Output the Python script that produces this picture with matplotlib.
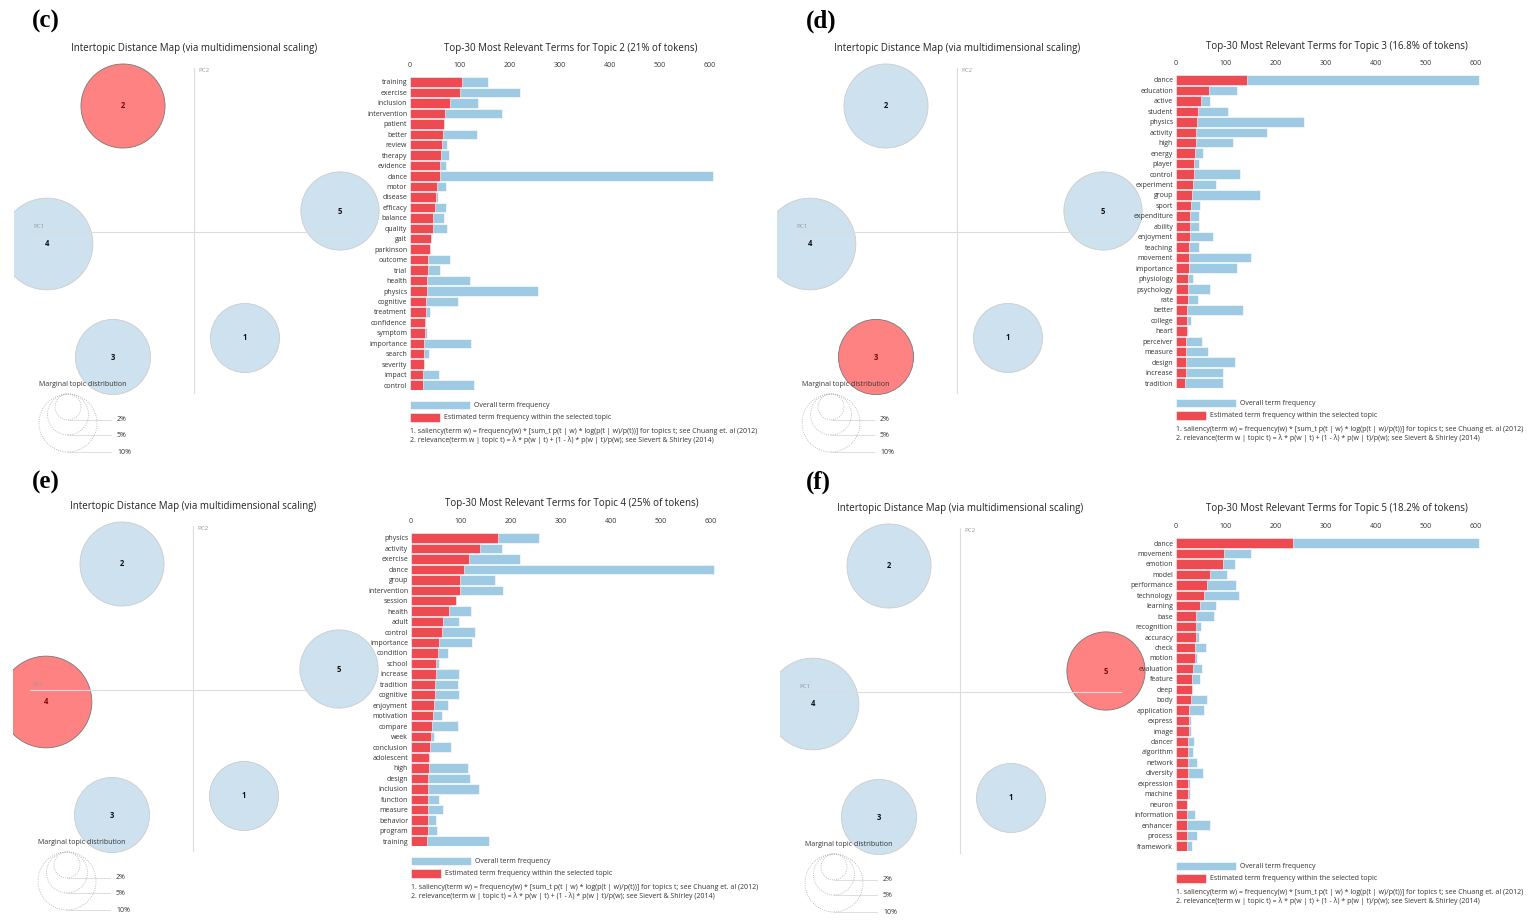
import numpy as np
import matplotlib.pyplot as plt
from matplotlib.patches import Circle, Rectangle

plt.rcParams['font.family'] = ['Open Sans', 'DejaVu Sans']

# ---- data ----
topic_ids = [1, 2, 3, 4, 5]
topic_share = [14.2, 21.0, 16.8, 25.0, 18.2]       # % of tokens
topic_pc1 = [0.102, -0.142, -0.162, -0.294, 0.292]
topic_pc2 = [-0.212, 0.252, -0.250, -0.024, 0.042]
legend_shares = [2, 5, 10]
bar_ticks = [0, 100, 200, 300, 400, 500, 600]

topic2_terms = ['training', 'exercise', 'inclusion', 'intervention', 'patient', 'better',
                'review', 'therapy', 'evidence', 'dance', 'motor', 'disease', 'efficacy',
                'balance', 'quality', 'gait', 'parkinson', 'outcome', 'trial', 'health',
                'physics', 'cognitive', 'treatment', 'confidence', 'symptom', 'importance',
                'search', 'severity', 'impact', 'control']
topic2_est = [104, 99, 80, 69, 67, 66, 63, 62, 60, 59, 53, 51, 49, 46, 46,
              41, 39, 36, 36, 34, 34, 32, 31, 30, 29, 28, 28, 27, 26, 26]
topic2_total = [156, 219, 136, 183, 67, 133, 74, 78, 71, 606, 71, 56, 72, 67, 73,
                41, 39, 80, 59, 120, 256, 95, 39, 32, 33, 122, 37, 27, 58, 128]

topic3_terms = ['dance', 'education', 'active', 'student', 'physics', 'activity', 'high',
                'energy', 'player', 'control', 'experiment', 'group', 'sport', 'expenditure',
                'ability', 'enjoyment', 'teaching', 'movement', 'importance', 'physiology',
                'psychology', 'rate', 'better', 'college', 'heart', 'perceiver', 'measure',
                'design', 'increase', 'tradition']
topic3_est = [142, 66, 49, 44, 41, 40, 39, 38, 36, 36, 34, 31, 29, 28, 27,
              27, 26, 25, 25, 24, 24, 23, 22, 21, 21, 20, 20, 19, 19, 18]
topic3_total = [605, 121, 68, 103, 255, 181, 114, 53, 46, 128, 79, 167, 47, 45, 45,
                73, 45, 150, 121, 34, 67, 43, 133, 29, 24, 51, 64, 117, 94, 94]

topic4_terms = ['physics', 'activity', 'exercise', 'dance', 'group', 'intervention',
                'session', 'health', 'adult', 'control', 'importance', 'condition', 'school',
                'increase', 'tradition', 'cognitive', 'enjoyment', 'motivation', 'compare',
                'week', 'conclusion', 'adolescent', 'high', 'design', 'inclusion',
                'function', 'measure', 'behavior', 'program', 'training']
topic4_est = [173, 137, 115, 106, 98, 97, 90, 76, 64, 61, 56, 53, 50, 49, 47,
              47, 45, 44, 42, 40, 38, 35, 35, 34, 34, 34, 34, 33, 33, 32]
topic4_total = [255, 181, 218, 605, 167, 183, 90, 120, 95, 128, 121, 73, 56, 95, 94,
                95, 73, 62, 94, 46, 80, 35, 114, 117, 135, 55, 64, 50, 52, 155]

topic5_terms = ['dance', 'movement', 'emotion', 'model', 'performance', 'technology',
                'learning', 'base', 'recognition', 'accuracy', 'check', 'motion',
                'evaluation', 'feature', 'deep', 'body', 'application', 'express', 'image',
                'dancer', 'algorithm', 'network', 'diversity', 'expression', 'machine',
                'neuron', 'information', 'enhancer', 'process', 'framework']
topic5_est = [233, 95, 94, 67, 62, 56, 47, 40, 39, 39, 38, 37, 34, 32, 32,
              29, 26, 25, 25, 24, 24, 23, 23, 23, 23, 22, 22, 21, 21, 21]
topic5_total = [605, 150, 118, 101, 120, 125, 80, 75, 50, 46, 59, 42, 52, 47, 32,
                62, 55, 29, 30, 36, 34, 42, 54, 27, 28, 22, 38, 68, 42, 31]

# ---- style ----
W, H = 1531, 924
S = 500.0                  # pixels per PC unit
R10 = 29.0 / S             # radius of a 10% circle
STEP = 10.45               # pixels per bar row
XSCALE = 0.5               # pixels per term count
BAR_BLUE = '#9ecae3'
BAR_RED = '#ee4a52'
CIRC_BLUE = (0.12, 0.47, 0.71, 0.22)
CIRC_RED = (1.0, 0.30, 0.30, 0.70)
FONT_SMALL = 5

fig = plt.figure(figsize=(W / 100, H / 100), dpi=100)


def px_rect(left, top, width, height):
    return [left / W, 1 - (top + height) / H, width / W, height / H]


def ftext(x, y, s, **kw):
    fig.text(x / W, 1 - y / H, s, **kw)


def frect(x, y, w, h, color):
    fig.add_artist(Rectangle((x / W, 1 - (y + h) / H), w / W, h / H,
                             transform=fig.transFigure, facecolor=color,
                             edgecolor='white', lw=0.4))


def draw_mds(ox, oy, selected):
    ax = fig.add_axes(px_rect(ox - 180, oy - 175, 390, 405))
    ax.set_xlim(-180 / S, 210 / S)
    ax.set_ylim(-230 / S, 175 / S)
    ax.axis('off')
    ax.plot([-0.326, 0.322], [0, 0], color='#dcdcdc', lw=0.8, zorder=3)
    ax.plot([0, 0], [-0.322, 0.328], color='#dcdcdc', lw=0.8, zorder=3)
    ax.text(-0.322, 0.006, 'PC1', fontsize=4.5, color='#999999', va='bottom')
    ax.text(0.008, 0.322, 'PC2', fontsize=4.5, color='#999999', va='center')
    for tid, share, x, y in zip(topic_ids, topic_share, topic_pc1, topic_pc2):
        r = R10 * np.sqrt(share / 10)
        sel = tid == selected
        ax.add_patch(Circle((x, y), r, facecolor=CIRC_RED if sel else CIRC_BLUE,
                            edgecolor='#777777' if sel else '#cccccc', lw=0.6, zorder=2))
        ax.text(x, y, str(tid), fontsize=5.5, fontweight='bold', ha='center', va='center',
                color='#8b0000' if sel else '#111111', zorder=4)
    # marginal topic distribution legend
    top = -0.324
    cx = -0.252
    ax.text(-0.31, -0.306, 'Marginal topic distribution', fontsize=FONT_SMALL,
            color='#333333', va='center', zorder=5)
    for share in legend_shares:
        r = R10 * np.sqrt(share / 10)
        ax.add_patch(Circle((cx, top - r), r, facecolor='none', edgecolor='#aaaaaa',
                            lw=0.6, ls=':', zorder=2))
        ax.plot([cx, -0.166], [top - 2 * r, top - 2 * r], color='#dddddd', lw=0.7)
        ax.text(-0.154, top - 2 * r, f'{share}%', fontsize=FONT_SMALL, va='center',
                color='#333333')
    ftext(ox, oy - 184, 'Intertopic Distance Map (via multidimensional scaling)',
          fontsize=7, ha='center', va='center', color='#222222')


def draw_bars(x0, row0, terms, est, total, topic, share):
    n = len(terms)
    ax = fig.add_axes(px_rect(x0, row0 - STEP / 2, 650 * XSCALE, n * STEP))
    y = np.arange(n)
    ax.barh(y, total, height=0.9, color=BAR_BLUE, edgecolor='white', lw=0.4)
    ax.barh(y, est, height=0.9, color=BAR_RED, edgecolor='white', lw=0.4)
    ax.set_xlim(0, 650)
    ax.set_ylim(n - 0.5, -0.5)
    ax.set_yticks(y, terms)
    ax.set_xticks(bar_ticks)
    ax.xaxis.tick_top()
    ax.tick_params(length=0, labelsize=FONT_SMALL, labelcolor='#333333')
    ax.tick_params(axis='x', pad=5.5)
    ax.tick_params(axis='y', pad=2)
    for sp in ax.spines.values():
        sp.set_visible(False)
    ftext(x0 + 161, row0 - 34,
          f'Top-30 Most Relevant Terms for Topic {topic} ({share:g}% of tokens)',
          fontsize=7, ha='center', va='center', color='#222222')
    last = row0 + (n - 1) * STEP
    frect(x0, last + 16, 60, 8, BAR_BLUE)
    ftext(x0 + 64, last + 20, 'Overall term frequency', fontsize=FONT_SMALL,
          va='center', color='#333333')
    frect(x0, last + 28, 30, 9, BAR_RED)
    ftext(x0 + 34, last + 32.5, 'Estimated term frequency within the selected topic',
          fontsize=FONT_SMALL, va='center', color='#333333')
    ftext(x0, last + 46, '1. saliency(term w) = frequency(w) * [sum_t p(t | w) * '
          'log(p(t | w)/p(t))] for topics t; see Chuang et. al (2012)',
          fontsize=5.0, va='center', color='#333333')
    ftext(x0, last + 55, '2. relevance(term w | topic t) = \u03bb * p(w | t) + '
          '(1 - \u03bb) * p(w | t)/p(w); see Sievert & Shirley (2014)',
          fontsize=5.0, va='center', color='#333333')


panels = [
    ('(c)', (32, 21), (194, 232), (410, 82), 2, topic2_terms, topic2_est, topic2_total),
    ('(d)', (806, 21), (957, 232), (1176, 80), 3, topic3_terms, topic3_est, topic3_total),
    ('(e)', (32, 482), (193, 690), (411, 538), 4, topic4_terms, topic4_est, topic4_total),
    ('(f)', (806, 482), (960, 692), (1176, 543), 5, topic5_terms, topic5_est, topic5_total),
]

for label, lpos, origin, barpos, topic, terms, est, total in panels:
    draw_mds(origin[0], origin[1], topic)
    draw_bars(barpos[0], barpos[1], terms, est, total, topic,
              topic_share[topic_ids.index(topic)])
    ftext(lpos[0], lpos[1], label, fontsize=18, fontweight='bold',
          family='Liberation Serif', va='center', ha='left')

fig.savefig('out.png', dpi=100)
